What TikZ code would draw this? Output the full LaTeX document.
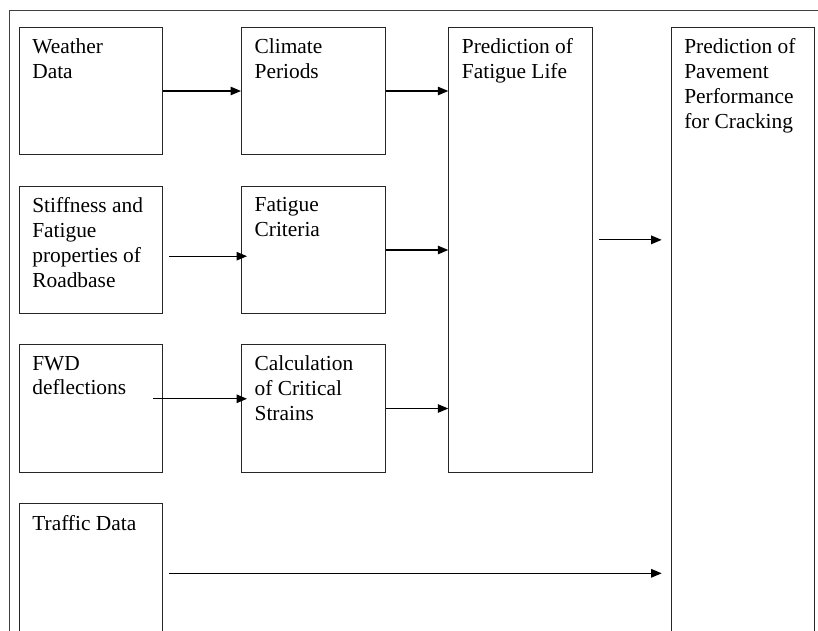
\documentclass[tikz,border=0pt]{standalone}
\usepackage{fontspec}
\setmainfont{Liberation Serif}
\usetikzlibrary{arrows.meta,calc}
\begin{document}
\begin{tikzpicture}[x=1pt,y=-1pt,
  box/.style={draw=black!85, line width=1pt, rectangle, inner sep=0pt, anchor=north west, minimum width=143.5pt},
  lab/.style={anchor=north west, inner sep=0pt, align=left, xshift=13.4pt, yshift=-11.6pt,
     font=\fontsize{21.4}{24.8}\selectfont},
  arr/.style={-{Triangle[length=10.5pt,width=8.5pt]}, line width=1.25pt, black},
  every label/.style={label distance=0pt}]
\useasboundingbox (0,0) rectangle (818,630);
\clip (0,0) rectangle (818,630);
\draw[line width=1pt, black!75] (9.5,10.7) rectangle (840,660);

\node[box, minimum height=127pt, label={[lab]north west:Weather\\Data}] (wd) at (18.7,27) {};
\node[box, minimum height=127pt, label={[lab]north west:Climate\\Periods}] (cp) at (241,27) {};
\node[box, minimum height=127pt, label={[lab]north west:Stiffness and\\Fatigue\\properties of\\Roadbase}] (sp) at (18.7,186) {};
\node[box, minimum height=127pt, label={[lab]north west:Fatigue\\Criteria}] (fc) at (241,186) {};
\node[box, minimum height=127.4pt, label={[lab]north west:FWD\\deflections}] (fwd) at (18.7,344.3) {};
\node[box, minimum height=127.4pt, label={[lab]north west:Calculation\\of Critical\\Strains}] (cs) at (241,344.3) {};
\node[box, minimum height=200pt, label={[lab]north west:Traffic Data}] (td) at (18.7,503.3) {};
\node[box, minimum height=444.7pt, label={[lab]north west:Prediction of\\Fatigue Life}] (fl) at (448.3,27) {};
\node[box, minimum height=700pt, label={[lab]north west:Prediction of\\Pavement\\Performance\\for Cracking}] (pp) at (670.7,27) {};

\draw[arr] (wd.east) -- (wd.east -| cp.west);
\draw[arr] (cp.east) -- (cp.east -| fl.west);
\coordinate (s1) at ($(sp.east)+(6,6.2)$);
\draw[arr] (s1) -- ($(s1 -| fc.west)+(6,0)$);
\draw[arr] (fc.east) -- (fc.east -| fl.west);
\coordinate (f1) at ($(fwd.east)+(-10,-9.7)$);
\draw[arr] (f1) -- ($(f1 -| cs.west)+(6,0)$);
\draw[arr] (cs.east) -- (cs.east -| fl.west);
\coordinate (l1) at ($(fl.east)+(6,-10)$);
\draw[arr, shorten >=9pt] (l1) -- (l1 -| pp.west);
\coordinate (t1) at ($(td.north east)+(6,70)$);
\draw[arr, shorten >=9pt] (t1) -- (t1 -| pp.west);
\end{tikzpicture}
\end{document}
